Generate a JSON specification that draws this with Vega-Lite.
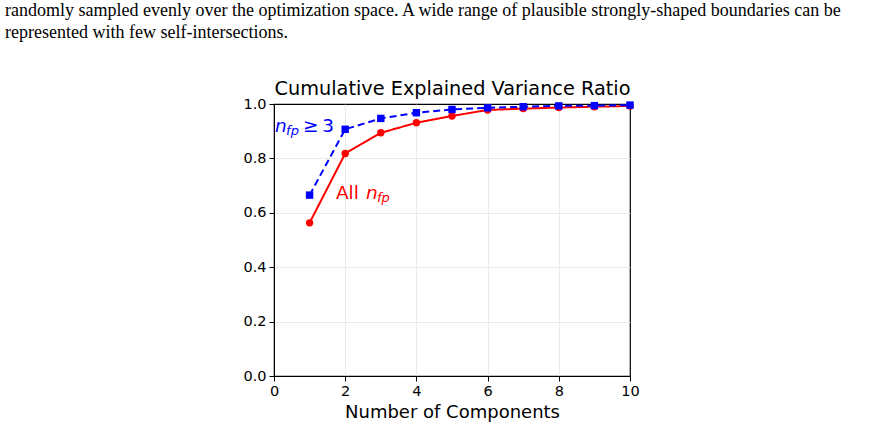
{
  "$schema": "https://vega.github.io/schema/vega-lite/v6.json",
  "autosize": {"type": "none"},
  "width": 356,
  "height": 272,
  "padding": {"left": 274, "top": 104, "right": 243, "bottom": 55},
  "background": "white",
  "config": {
    "font": "DejaVu Sans",
    "view": {"stroke": "black", "strokeWidth": 1.2},
    "axis": {"labelFont": "DejaVu Sans", "titleFont": "DejaVu Sans", "labelFontSize": 14.5, "labelColor": "black", "titleColor": "black", "domainColor": "black", "tickColor": "black", "gridColor": "#e6e6e6", "gridWidth": 0.8},
    "axisLeft": {"labelFontSize": 14.5},
    "axisBottom": {"labelFontSize": 14.5}
  },
  "title": {
    "text": ["randomly sampled evenly over the optimization space. A wide range of plausible strongly-shaped boundaries can be", "represented with few self-intersections."],
    "anchor": "start",
    "frame": "group",
    "dx": -269,
    "font": "Liberation Serif",
    "fontSize": 18,
    "fontWeight": "normal",
    "color": "black",
    "lineHeight": 22,
    "offset": 37
  },
  "data": {"values": [
    {"n": 1, "value": 0.563, "series": "All"},
    {"n": 2, "value": 0.818, "series": "All"},
    {"n": 3, "value": 0.894, "series": "All"},
    {"n": 4, "value": 0.931, "series": "All"},
    {"n": 5, "value": 0.956, "series": "All"},
    {"n": 6, "value": 0.978, "series": "All"},
    {"n": 7, "value": 0.983, "series": "All"},
    {"n": 8, "value": 0.987, "series": "All"},
    {"n": 9, "value": 0.990, "series": "All"},
    {"n": 10, "value": 0.993, "series": "All"},
    {"n": 1, "value": 0.665, "series": "nfp3"},
    {"n": 2, "value": 0.907, "series": "nfp3"},
    {"n": 3, "value": 0.947, "series": "nfp3"},
    {"n": 4, "value": 0.968, "series": "nfp3"},
    {"n": 5, "value": 0.980, "series": "nfp3"},
    {"n": 6, "value": 0.986, "series": "nfp3"},
    {"n": 7, "value": 0.990, "series": "nfp3"},
    {"n": 8, "value": 0.993, "series": "nfp3"},
    {"n": 9, "value": 0.994, "series": "nfp3"},
    {"n": 10, "value": 0.996, "series": "nfp3"}
  ]},
  "resolve": {"axis": {"x": "independent", "y": "independent"}},
  "layer": [
    {
      "mark": {"type": "line", "strokeWidth": 2},
      "encoding": {
        "x": {"field": "n", "type": "quantitative", "scale": {"domain": [0, 10], "nice": false},
          "axis": {"orient": "bottom", "values": [0, 2, 4, 6, 8, 10], "labelFontSize": 14.5, "labelFlush": false, "tickSize": 5, "labelPadding": 3, "title": "Number of Components", "titleFontSize": 18, "titleFontWeight": "normal", "titlePadding": 6, "grid": false}},
        "y": {"field": "value", "type": "quantitative", "scale": {"domain": [0, 1], "nice": false},
          "axis": {"orient": "left", "values": [0, 0.2, 0.4, 0.6, 0.8, 1.0], "format": ".1f", "labelFontSize": 14.5, "labelFlush": false, "tickSize": 5, "labelPadding": 3, "title": null, "grid": false}},
        "color": {"field": "series", "type": "nominal", "scale": {"domain": ["All", "nfp3"], "range": ["#ff0000", "#0000ff"]}, "legend": null},
        "strokeDash": {"field": "series", "type": "nominal", "scale": {"domain": ["All", "nfp3"], "range": [[1, 0], [7, 4]]}, "legend": null}
      }
    },
    {
      "mark": {"type": "point", "filled": true, "opacity": 1, "size": 55},
      "encoding": {
        "x": {"field": "n", "type": "quantitative", "axis": null},
        "y": {"field": "value", "type": "quantitative",
          "axis": {"orient": "right", "values": [0.2, 0.4, 0.6, 0.8], "labels": false, "ticks": false, "domain": false, "title": null, "grid": true}},
        "color": {"field": "series", "type": "nominal", "legend": null},
        "shape": {"field": "series", "type": "nominal", "scale": {"domain": ["All", "nfp3"], "range": ["circle", "square"]}, "legend": null}
      }
    },
    {
      "data": {"values": [{"n": 0.03, "value": 0.897, "t": "n"}]},
      "mark": {"type": "text", "align": "left", "baseline": "alphabetic", "fontStyle": "italic", "fontSize": 18.5, "color": "#0000ff"},
      "encoding": {"x": {"field": "n", "type": "quantitative", "axis": null}, "y": {"field": "value", "type": "quantitative", "axis": null}, "text": {"field": "t"}}
    },
    {
      "data": {"values": [{"n": 0.03, "value": 0.897, "t": "fp"}]},
      "mark": {"type": "text", "align": "left", "baseline": "alphabetic", "fontStyle": "italic", "fontSize": 13, "color": "#0000ff", "dx": 11, "dy": 3},
      "encoding": {"x": {"field": "n", "type": "quantitative", "axis": null}, "y": {"field": "value", "type": "quantitative", "axis": null}, "text": {"field": "t"}}
    },
    {
      "data": {"values": [{"n": 0.03, "value": 0.897, "t": "≥\u20093"}]},
      "mark": {"type": "text", "align": "left", "baseline": "alphabetic", "fontSize": 18.5, "color": "#0000ff", "dx": 28},
      "encoding": {
        "x": {"field": "n", "type": "quantitative",
          "axis": {"orient": "top", "values": [2, 4, 6, 8], "title": "Cumulative Explained Variance Ratio", "labels": false, "ticks": false, "domain": false, "grid": true, "titleFontSize": 19.3, "titleFontWeight": "normal", "titlePadding": 6}},
        "y": {"field": "value", "type": "quantitative", "axis": null}, "text": {"field": "t"}}
    },
    {
      "data": {"values": [{"n": 1.74, "value": 0.651, "t": "All"}]},
      "mark": {"type": "text", "align": "left", "baseline": "alphabetic", "fontSize": 18.5, "color": "#ff0000"},
      "encoding": {"x": {"field": "n", "type": "quantitative", "axis": null}, "y": {"field": "value", "type": "quantitative", "axis": null}, "text": {"field": "t"}}
    },
    {
      "data": {"values": [{"n": 1.74, "value": 0.651, "t": "n"}]},
      "mark": {"type": "text", "align": "left", "baseline": "alphabetic", "fontStyle": "italic", "fontSize": 18.5, "color": "#ff0000", "dx": 30},
      "encoding": {"x": {"field": "n", "type": "quantitative", "axis": null}, "y": {"field": "value", "type": "quantitative", "axis": null}, "text": {"field": "t"}}
    },
    {
      "data": {"values": [{"n": 1.74, "value": 0.651, "t": "fp"}]},
      "mark": {"type": "text", "align": "left", "baseline": "alphabetic", "fontStyle": "italic", "fontSize": 13, "color": "#ff0000", "dx": 41, "dy": 3},
      "encoding": {"x": {"field": "n", "type": "quantitative", "axis": null}, "y": {"field": "value", "type": "quantitative", "axis": null}, "text": {"field": "t"}}
    }
  ]
}
